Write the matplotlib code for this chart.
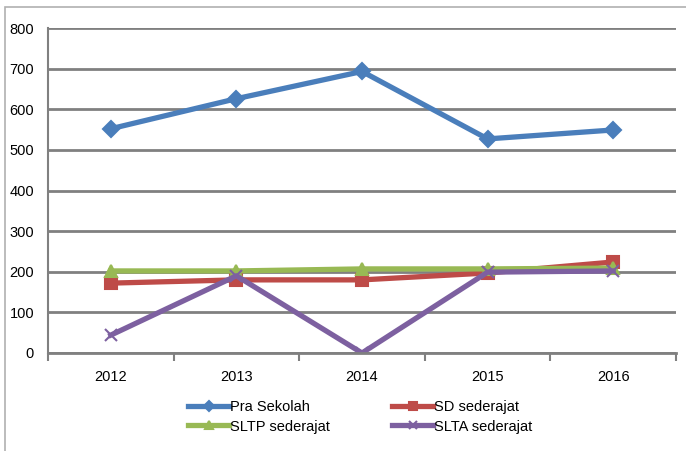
import matplotlib.pyplot as plt
from matplotlib.patches import Rectangle

plt.rcParams['font.family'] = ['Liberation Sans', 'DejaVu Sans']

years = ['2012', '2013', '2014', '2015', '2016']
pra_sekolah = [552, 626, 693, 527, 549]
sd = [172, 180, 180, 197, 224]
sltp = [202, 202, 207, 207, 209]
slta = [44, 190, 0, 199, 202]

series = [
    ('Pra Sekolah', pra_sekolah, '#4a7ebb', 'D'),
    ('SD sederajat', sd, '#be4b48', 's'),
    ('SLTP sederajat', sltp, '#98b954', '^'),
    ('SLTA sederajat', slta, '#7d60a0', 'x'),
]

fig = plt.figure(figsize=(6.86, 4.51), dpi=100)
ax = fig.add_axes([48/686, 1-353/451, 628/686, 325/451])

x = list(range(len(years)))
lines = {}
for name, vals, col, mk in series:
    ln, = ax.plot(x, vals, color=col, lw=3.8, marker=mk, ms=8 if mk != 'x' else 9,
                  mew=1.5, mfc=col, mec=col, label=name)
    lines[name] = ln

ax.set_ylim(0, 800)
ax.set_xlim(-0.5, 4.5)
ax.set_yticks(range(0, 801, 100))
ax.yaxis.grid(True, color='#808080', lw=2)
ax.set_axisbelow(True)
ax.set_xticks(x)
ax.set_xticklabels(years)
ax.set_xticks([i - 0.5 for i in range(6)], minor=True)
ax.tick_params(axis='x', which='major', length=0, pad=12, labelsize=10.5)
ax.tick_params(axis='x', which='minor', length=6, width=1.5, color='#808080')
ax.tick_params(axis='y', length=0, pad=10, labelsize=10.5)

for s in ['top', 'right']:
    ax.spines[s].set_visible(False)
ax.spines['left'].set_color('#808080')
ax.spines['left'].set_linewidth(1.5)
ax.spines['bottom'].set_color('#808080')
ax.spines['bottom'].set_linewidth(2)

# legend fills column-wise, so order as Pra, SLTP | SD, SLTA
order = ['Pra Sekolah', 'SLTP sederajat', 'SD sederajat', 'SLTA sederajat']
fig.legend([lines[n] for n in order], order, loc='center',
           bbox_to_anchor=(0.525, 1-417/451), ncol=2,
           frameon=False, fontsize=10.5, handlelength=2.8, handletextpad=0.05,
           columnspacing=4.3, labelspacing=0.35, markerscale=0.7,
           borderpad=0)

fig.patches.append(Rectangle((5/686, -0.01), 1.0, 1-7/451 + 0.01, transform=fig.transFigure,
                             fill=False, ec='#b0b0b0', lw=1.2))

fig.savefig('out.png', dpi=100)
